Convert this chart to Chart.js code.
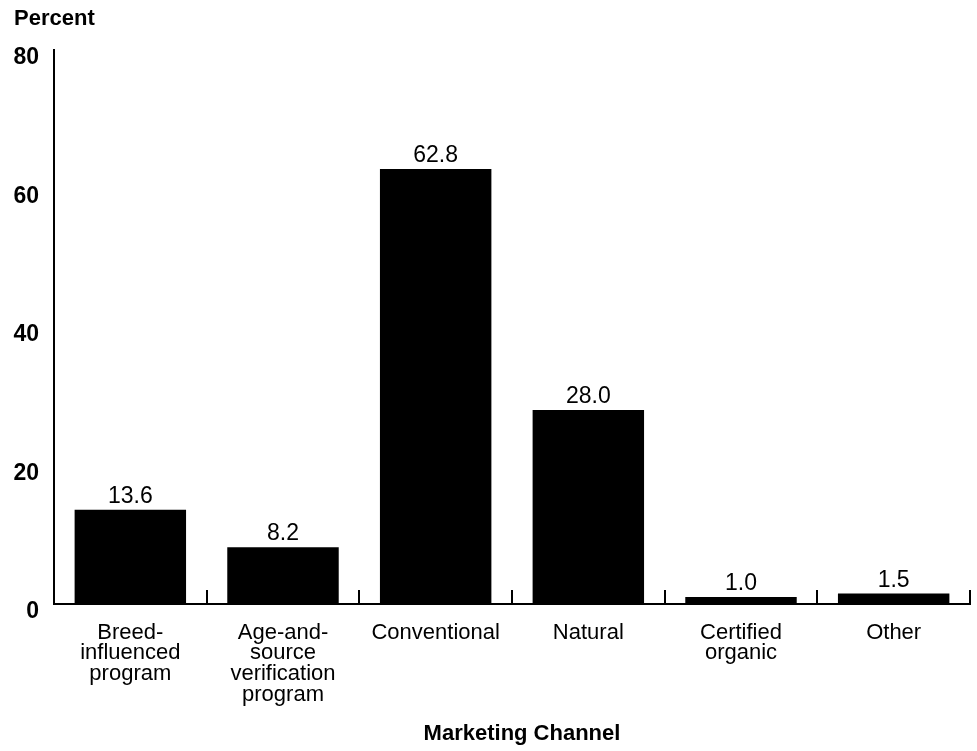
<!DOCTYPE html>
<html>
<head>
<meta charset="utf-8">
<script src="https://cdn.jsdelivr.net/npm/chart.js@4"></script>
<style>
  html, body { margin: 0; padding: 0; background: #fff; }
  #wrap { width: 977px; height: 751px; position: relative; }
</style>
</head>
<body>
<div id="wrap"><canvas id="chart"></canvas></div>
<script>
// Data
const categories = [
    ['Breed-', 'influenced', 'program'],
    ['Age-and-', 'source', 'verification', 'program'],
    'Conventional',
    'Natural',
    ['Certified', 'organic'],
    'Other'
];
const shares = [13.6, 8.2, 62.8, 28.0, 1.0, 1.5];
const yTicks = [0, 20, 40, 60, 80];

const FONT = "'Liberation Sans', Arial, sans-serif";

// value labels above each bar
const valueLabels = {
    id: 'valueLabels',
    afterDatasetsDraw(chart) {
        const ctx = chart.ctx;
        const meta = chart.getDatasetMeta(0);
        ctx.save();
        ctx.font = '23px ' + FONT;
        ctx.fillStyle = '#000';
        ctx.textAlign = 'center';
        ctx.textBaseline = 'alphabetic';
        meta.data.forEach((bar, i) => {
            ctx.fillText(shares[i].toFixed(1), bar.x, bar.y - 7);
        });
        ctx.restore();
    }
};

// short tick marks between categories, pointing up from the axis
const categoryTicks = {
    id: 'categoryTicks',
    afterDraw(chart) {
        const ctx = chart.ctx;
        const x = chart.scales.x;
        const bottom = chart.chartArea.bottom;
        const half = (x.getPixelForValue(1) - x.getPixelForValue(0)) / 2;
        ctx.save();
        ctx.strokeStyle = '#000';
        ctx.lineWidth = 2;
        for (let i = 0; i < categories.length; i++) {
            const px = Math.round(x.getPixelForValue(i) + half);
            ctx.beginPath();
            ctx.moveTo(px, bottom);
            ctx.lineTo(px, bottom - 14);
            ctx.stroke();
        }
        ctx.restore();
    }
};

// axis titles
const titles = {
    id: 'titles',
    afterDraw(chart) {
        const ctx = chart.ctx;
        ctx.save();
        ctx.fillStyle = '#000';
        ctx.font = 'bold 22px ' + FONT;
        ctx.textBaseline = 'middle';
        ctx.textAlign = 'left';
        ctx.fillText('Percent', 14, 19);
        ctx.textAlign = 'center';
        ctx.fillText('Marketing Channel', 522, 734);
        ctx.restore();
    }
};

new Chart(document.getElementById('chart'), {
    type: 'bar',
    data: {
        labels: categories,
        datasets: [{
            data: shares,
            backgroundColor: '#000',
            borderWidth: 0,
            barPercentage: 0.73,
            categoryPercentage: 1.0
        }]
    },
    options: {
        responsive: true,
        maintainAspectRatio: false,
        animation: false,
        layout: { padding: { top: 50, right: 7, left: 0, bottom: 0 } },
        plugins: { legend: { display: false }, tooltip: { enabled: false } },
        scales: {
            x: {
                grid: { drawOnChartArea: false, drawTicks: false },
                border: { color: '#000', width: 2 },
                ticks: {
                    color: '#000',
                    font: { family: FONT, size: 22, lineHeight: 0.95 },
                    padding: 18,
                    maxRotation: 0,
                    autoSkip: false
                },
                afterFit(scale) { scale.height = 147; }
            },
            y: {
                min: 0, max: 80,
                afterBuildTicks(scale) { scale.ticks = yTicks.map(v => ({ value: v })); },
                grid: { drawOnChartArea: false, drawTicks: false },
                border: { color: '#000', width: 2 },
                ticks: {
                    color: '#000',
                    font: { family: FONT, size: 23, weight: 'bold' },
                    padding: 15,
                    labelOffset: 8
                },
                afterFit(scale) { scale.width = 54; }
            }
        }
    },
    plugins: [valueLabels, categoryTicks, titles]
});
</script>
</body>
</html>
